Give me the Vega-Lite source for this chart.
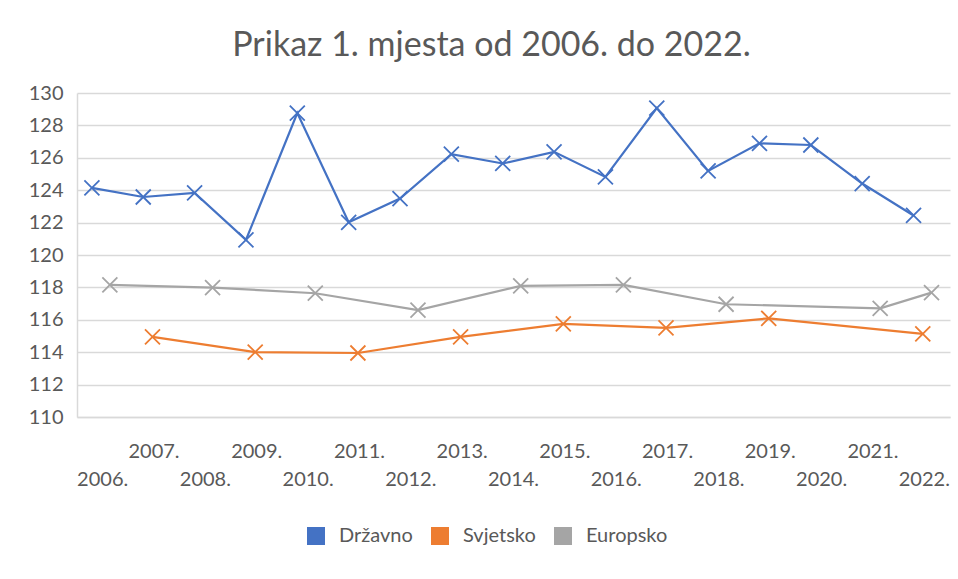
{
  "$schema": "https://vega.github.io/schema/vega-lite/v6.json",
  "width": 873,
  "height": 324,
  "autosize": {"type": "none"},
  "padding": {"left": 77, "top": 93, "right": 8, "bottom": 162},
  "background": "white",
  "title": {
    "text": "Prikaz 1. mjesta od 2006. do 2022.",
    "fontSize": 34,
    "font": "Lato",
    "fontWeight": "normal",
    "color": "#595959",
    "anchor": "middle",
    "frame": "group",
    "dx": -22,
    "offset": 20
  },
  "config": {
    "view": {"stroke": null},
    "font": "Lato"
  },
  "data": {
    "values": [
      {"year": 2006, "series": "Državno", "value": 124.14},
      {"year": 2007, "series": "Državno", "value": 123.58},
      {"year": 2008, "series": "Državno", "value": 123.83},
      {"year": 2009, "series": "Državno", "value": 120.93},
      {"year": 2010, "series": "Državno", "value": 128.76},
      {"year": 2011, "series": "Državno", "value": 122.02},
      {"year": 2012, "series": "Državno", "value": 123.48},
      {"year": 2013, "series": "Državno", "value": 126.23},
      {"year": 2014, "series": "Državno", "value": 125.65},
      {"year": 2015, "series": "Državno", "value": 126.37},
      {"year": 2016, "series": "Državno", "value": 124.82},
      {"year": 2017, "series": "Državno", "value": 129.07},
      {"year": 2018, "series": "Državno", "value": 125.19},
      {"year": 2019, "series": "Državno", "value": 126.89},
      {"year": 2020, "series": "Državno", "value": 126.79},
      {"year": 2021, "series": "Državno", "value": 124.41},
      {"year": 2022, "series": "Državno", "value": 122.44},
      {"year": 2007, "series": "Svjetsko", "value": 114.95},
      {"year": 2009, "series": "Svjetsko", "value": 114.01},
      {"year": 2011, "series": "Svjetsko", "value": 113.95},
      {"year": 2013, "series": "Svjetsko", "value": 114.95},
      {"year": 2015, "series": "Svjetsko", "value": 115.75},
      {"year": 2017, "series": "Svjetsko", "value": 115.5},
      {"year": 2019, "series": "Svjetsko", "value": 116.09},
      {"year": 2022, "series": "Svjetsko", "value": 115.13},
      {"year": 2006, "series": "Europsko", "value": 118.16},
      {"year": 2008, "series": "Europsko", "value": 117.99},
      {"year": 2010, "series": "Europsko", "value": 117.64},
      {"year": 2012, "series": "Europsko", "value": 116.6},
      {"year": 2014, "series": "Europsko", "value": 118.09},
      {"year": 2016, "series": "Europsko", "value": 118.16},
      {"year": 2018, "series": "Europsko", "value": 116.96},
      {"year": 2021, "series": "Europsko", "value": 116.71},
      {"year": 2022, "series": "Europsko", "value": 117.68}
    ]
  },
  "encoding": {
    "y": {
      "field": "value",
      "type": "quantitative",
      "scale": {"domain": [110, 130], "nice": false, "zero": false},
      "axis": {
        "title": null,
        "values": [110, 112, 114, 116, 118, 120, 122, 124, 126, 128, 130],
        "ticks": false,
        "domain": true,
        "domainColor": "#d9d9d9",
        "domainWidth": 1.5,
        "gridColor": "#d9d9d9",
        "gridWidth": 1.5,
        "labelFontSize": 20,
        "labelColor": "#595959",
        "labelPadding": 14
      }
    },
    "color": {
      "field": "series",
      "type": "nominal",
      "scale": {
        "domain": ["Državno", "Svjetsko", "Europsko"],
        "range": ["#4472C4", "#ED7D31", "#A5A5A5"]
      },
      "legend": {
        "title": null,
        "orient": "none",
        "legendX": 229,
        "legendY": 433,
        "direction": "horizontal",
        "symbolType": "square",
        "symbolSize": 4,
        "symbolStrokeWidth": 16,
        "symbolOpacity": 1,
        "labelFontSize": 20,
        "labelColor": "#595959",
        "labelOffset": 13,
        "columnPadding": -6
      }
    }
  },
  "layer": [
    {
      "transform": [{"filter": "datum.series == 'Državno'"}],
      "encoding": {
        "x": {
          "field": "year",
          "type": "ordinal",
          "bandPosition": 0.29,
          "scale": {"type": "band", "paddingInner": 0, "paddingOuter": 0},
          "axis": {
            "title": null,
            "labelAngle": 0,
            "ticks": false,
            "grid": false,
            "domainColor": "#d9d9d9",
            "domainWidth": 1.5,
            "labelFontSize": 20,
            "labelColor": "#595959",
            "labelPadding": 24,
            "labelLineHeight": 28,
            "labelBaseline": "top",
            "labelExpr": "datum.value % 2 == 0 ? ['', datum.label + '.'] : datum.label + '.'"
          }
        }
      },
      "layer": [
        {"mark": {"type": "line", "strokeWidth": 2.2}},
        {"mark": {"type": "point", "shape": "M-1,-1L1,1M1,-1L-1,1", "filled": false, "size": 225, "strokeWidth": 1.8, "opacity": 1}}
      ]
    },
    {
      "transform": [{"filter": "datum.series == 'Svjetsko'"}],
      "encoding": {
        "x": {
          "field": "year",
          "type": "ordinal",
          "bandPosition": 0.47,
          "scale": {"type": "band", "paddingInner": 0, "paddingOuter": 0}
        }
      },
      "layer": [
        {"mark": {"type": "line", "strokeWidth": 2.2}},
        {"mark": {"type": "point", "shape": "M-1,-1L1,1M1,-1L-1,1", "filled": false, "size": 225, "strokeWidth": 1.8, "opacity": 1}}
      ]
    },
    {
      "transform": [{"filter": "datum.series == 'Europsko'"}],
      "encoding": {
        "x": {
          "field": "year",
          "type": "ordinal",
          "bandPosition": 0.64,
          "scale": {"type": "band", "paddingInner": 0, "paddingOuter": 0}
        }
      },
      "layer": [
        {"mark": {"type": "line", "strokeWidth": 2.2}},
        {"mark": {"type": "point", "shape": "M-1,-1L1,1M1,-1L-1,1", "filled": false, "size": 225, "strokeWidth": 1.8, "opacity": 1}}
      ]
    }
  ]
}
